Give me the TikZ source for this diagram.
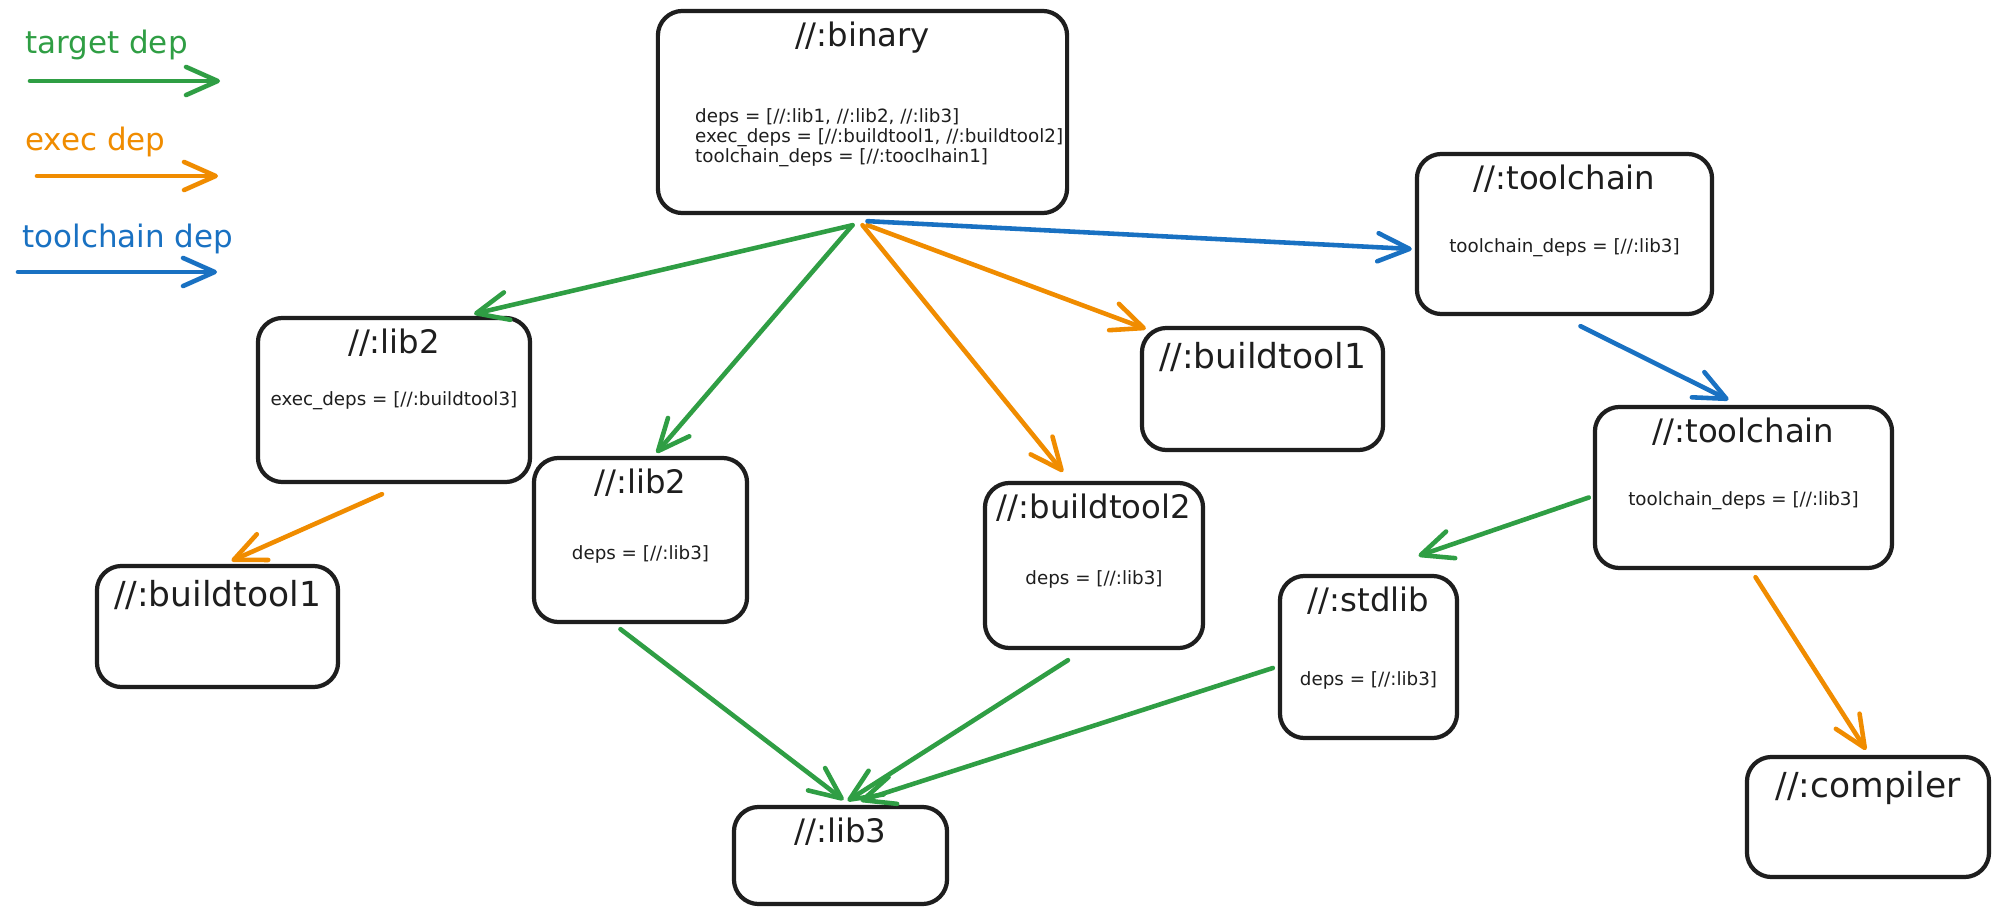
\documentclass[tikz,border=0pt]{standalone}
\usepackage{fontspec}
\setmainfont{DejaVu Sans}
\usetikzlibrary{arrows.meta}

\definecolor{tgreen}{HTML}{2F9E44}
\definecolor{torange}{HTML}{F08C00}
\definecolor{tblue}{HTML}{1971C2}
\definecolor{ink}{HTML}{1E1E1E}

\tikzset{
  box/.style={draw=ink, line width=1.2pt, rounded corners=7pt, inner sep=0pt},
  title/.style={anchor=base, text=ink, font=\fontsize{9.2}{11}\selectfont, yshift=-0.38cm},
  bigtitle/.style={anchor=base, text=ink, font=\fontsize{9.8}{12}\selectfont, yshift=-0.43cm},
  body/.style={anchor=base, text=ink, font=\fontsize{5.2}{6}\selectfont},
  legend/.style={anchor=base west, font=\fontsize{8.8}{10}\selectfont},
  dep/.style={line width=1.3pt, line cap=round, -{Straight Barb[length=9pt,width=8pt,round]}},
  tdep/.style={dep, draw=tgreen},
  edep/.style={dep, draw=torange},
  cdep/.style={dep, draw=tblue}
}

\begin{document}
\begin{tikzpicture}[x=0.01cm, y=-0.01cm]
    \fill[white] (0,0) rectangle (1999,915);
    \useasboundingbox (0,0) rectangle (1999,915);

    % Legend
    \coordinate (tdepA) at (30,81);
    \coordinate (tdepB) at (220,81);
    \coordinate (edepA) at (37,176);
    \coordinate (edepB) at (218,176);
    \coordinate (cdepA) at (18,272);
    \coordinate (cdepB) at (217,272);
    \node[legend, text=tgreen] (tdepText) at (13,53) {target dep};
    \node[legend, text=torange] (edepText) at (13,150) {exec dep};
    \node[legend, text=tblue] (cdepText) at (10,247) {toolchain dep};
    \draw[tdep] (tdepA) -- (tdepB);
    \draw[edep] (edepA) -- (edepB);
    \draw[cdep] (cdepA) -- (cdepB);

    % Draw the boxes
    \node[box, minimum width=4.09cm, minimum height=2.02cm] (binary) at (862.5,112) {};
    \node[box, minimum width=2.95cm, minimum height=1.60cm] (tcOne) at (1564.5,234) {};
    \node[box, minimum width=2.72cm, minimum height=1.64cm] (libTwoL) at (394,400) {};
    \node[box, minimum width=2.41cm, minimum height=1.22cm] (toolOneM) at (1262.5,389) {};
    \node[box, minimum width=2.13cm, minimum height=1.64cm] (libTwoM) at (640.5,540) {};
    \node[box, minimum width=2.18cm, minimum height=1.65cm] (toolTwo) at (1094,565.5) {};
    \node[box, minimum width=2.97cm, minimum height=1.61cm] (tcTwo) at (1743.5,487.5) {};
    \node[box, minimum width=1.77cm, minimum height=1.62cm] (stdlib) at (1368.5,657) {};
    \node[box, minimum width=2.41cm, minimum height=1.21cm] (toolOneL) at (217.5,626.5) {};
    \node[box, minimum width=2.13cm, minimum height=0.97cm] (libThree) at (840.5,855.5) {};
    \node[box, minimum width=2.42cm, minimum height=1.20cm] (compiler) at (1868,817) {};

    % Titles and attributes
    \node[title] (binaryTitle) at (binary.north) {//:binary};
    \node[body, anchor=base west] (binaryDeps) at ([xshift=0.27cm,yshift=-0.1cm]binary.west) {deps = [//:lib1, //:lib2, //:lib3]};
    \node[body, anchor=base west] (binaryExec) at ([xshift=0.27cm,yshift=-0.3cm]binary.west) {exec\_deps = [//:buildtool1, //:buildtool2]};
    \node[body, anchor=base west] (binaryTc) at ([xshift=0.27cm,yshift=-0.5cm]binary.west) {toolchain\_deps = [//:tooclhain1]};
    \node[title] (tcOneTitle) at (tcOne.north) {//:toolchain};
    \node[body] (tcOneBody) at ([yshift=-1.01cm]tcOne.north) {toolchain\_deps = [//:lib3]};
    \node[title] (libTwoLTitle) at (libTwoL.north) {//:lib2};
    \node[body] (libTwoLBody) at ([yshift=-0.90cm]libTwoL.north) {exec\_deps = [//:buildtool3]};
    \node[bigtitle] (toolOneMTitle) at (toolOneM.north) {//:buildtool1};
    \node[title] (libTwoMTitle) at (libTwoM.north) {//:lib2};
    \node[body] (libTwoMBody) at ([yshift=-1.04cm]libTwoM.north) {deps = [//:lib3]};
    \node[title] (toolTwoTitle) at (toolTwo.north) {//:buildtool2};
    \node[body] (toolTwoBody) at ([yshift=-1.04cm]toolTwo.north) {deps = [//:lib3]};
    \node[title] (tcTwoTitle) at (tcTwo.north) {//:toolchain};
    \node[body] (tcTwoBody) at ([yshift=-1.01cm]tcTwo.north) {toolchain\_deps = [//:lib3]};
    \node[title] (stdlibTitle) at (stdlib.north) {//:stdlib};
    \node[body] (stdlibBody) at ([yshift=-1.12cm]stdlib.north) {deps = [//:lib3]};
    \node[bigtitle] (toolOneLTitle) at (toolOneL.north) {//:buildtool1};
    \node[title] (libThreeTitle) at (libThree.north) {//:lib3};
    \node[bigtitle] (compilerTitle) at (compiler.north) {//:compiler};

    % Draw the dependencies
    \draw[tdep] ([xshift=-0.1cm,yshift=-0.1cm]binary.south) -- ([xshift=0.8cm,yshift=0.02cm]libTwoL.north);
    \draw[tdep] ([xshift=-0.1cm,yshift=-0.1cm]binary.south) -- ([xshift=0.16cm,yshift=0.03cm]libTwoM.north);
    \draw[edep] ([yshift=-0.1cm]binary.south) -- ([xshift=-0.31cm,yshift=0.09cm]toolTwo.north);
    \draw[edep] ([xshift=0.05cm,yshift=-0.1cm]binary.south) -- ([xshift=0.06cm,yshift=-0.03cm]toolOneM.north west);
    \draw[cdep] ([xshift=0.05cm,yshift=-0.06cm]binary.south) -- ([xshift=-0.03cm,yshift=-0.15cm]tcOne.west);
    \draw[cdep] ([xshift=0.16cm,yshift=-0.1cm]tcOne.south) -- ([xshift=-0.15cm,yshift=0.05cm]tcTwo.north);
    \draw[edep] ([xshift=-0.12cm,yshift=-0.1cm]libTwoL.south) -- ([xshift=0.14cm,yshift=0.03cm]toolOneL.north);
    \draw[tdep] ([xshift=-0.2cm,yshift=-0.05cm]libTwoM.south) -- ([xshift=0.03cm,yshift=0.05cm]libThree.north);
    \draw[tdep] ([xshift=-0.26cm,yshift=-0.1cm]toolTwo.south) -- ([xshift=0.07cm,yshift=0.04cm]libThree.north);
    \draw[tdep] ([xshift=-0.05cm,yshift=-0.11cm]stdlib.west) -- ([xshift=0.2cm,yshift=0.04cm]libThree.north);
    \draw[tdep] ([xshift=-0.04cm,yshift=-0.1cm]tcTwo.west) -- ([xshift=0.5cm,yshift=0.18cm]stdlib.north);
    \draw[edep] ([xshift=0.12cm,yshift=-0.07cm]tcTwo.south) -- ([xshift=-0.02cm,yshift=0.05cm]compiler.north);
\end{tikzpicture}
\end{document}
